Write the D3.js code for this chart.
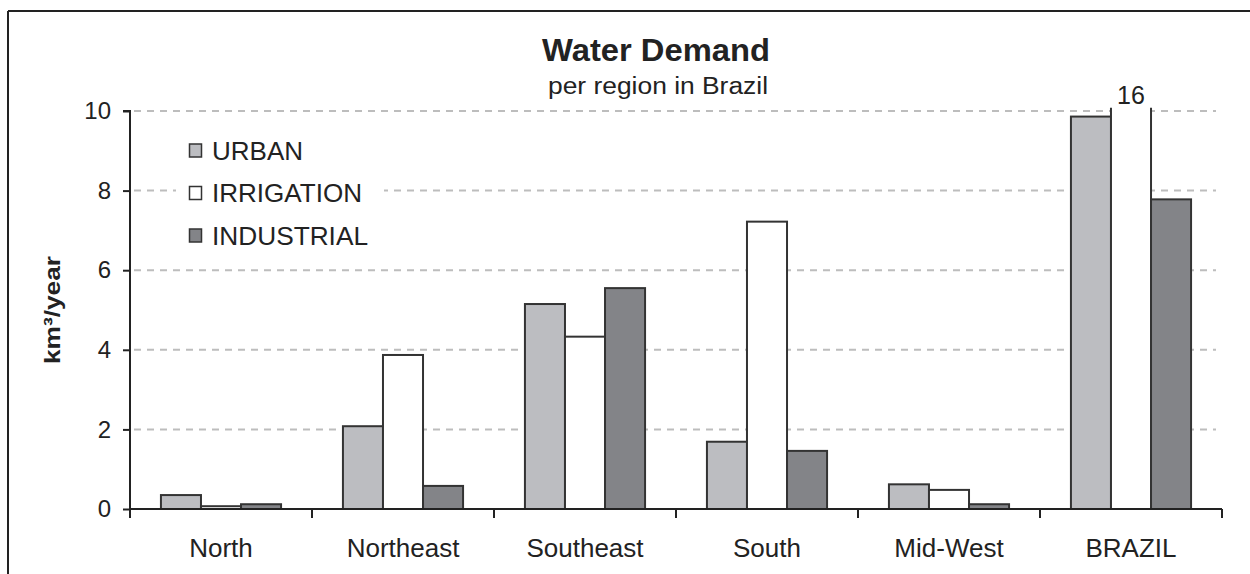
<!DOCTYPE html>
<html>
<head>
<meta charset="utf-8">
<script src="https://d3js.org/d3.v7.min.js"></script>
<style>
  html, body { margin: 0; padding: 0; background: #fff; }
  svg { display: block; font-family: "Liberation Sans", Arial, sans-serif; }
</style>
</head>
<body>
<svg id="chart" width="1250" height="574"></svg>
<script>
// ---- data ----
const regions = ["North", "Northeast", "Southeast", "South", "Mid-West", "BRAZIL"];
const seriesNames = ["URBAN", "IRRIGATION", "INDUSTRIAL"];
const urban      = [0.35, 2.08, 5.15, 1.69, 0.62, 9.86];
const irrigation = [0.07, 3.87, 4.33, 7.22, 0.48, 16];
const industrial = [0.12, 0.58, 5.55, 1.46, 0.12, 7.78];
const yTicks = [0, 2, 4, 6, 8, 10];
const seriesColors = ["#bcbdc1", "#ffffff", "#838488"];
const titleText = "Water Demand";
const subtitleText = "per region in Brazil";
const yLabelText = "km³/year";

(function () {
const values = [urban, irrigation, industrial];
const svg = d3.select("#chart");
const legendWidths = [91, 150, 156];

// frame
svg.append("line").attr("x1", 8).attr("x2", 1250).attr("y1", 11).attr("y2", 11)
  .attr("stroke", "#222").attr("stroke-width", 2);
svg.append("line").attr("x1", 8).attr("x2", 8).attr("y1", 11).attr("y2", 574)
  .attr("stroke", "#222").attr("stroke-width", 2);

const pL = 130, pR = 1222, pT = 111, pB = 509;
const y = d3.scaleLinear().domain([0, 10]).range([pB, pT]);
const x0 = d3.scaleBand().domain(regions).range([pL, pR]).padding(0);
const bw = x0.bandwidth();
const pad = bw * 0.17;
const x1 = d3.scaleBand().domain(seriesNames).range([pad, bw - pad]).padding(0);

// gridlines
svg.append("g").selectAll("line").data(yTicks.filter(d => d > 0)).join("line")
  .attr("x1", pL + 4).attr("x2", 1216)
  .attr("y1", d => y(d)).attr("y2", d => y(d))
  .attr("stroke", "#bdbdbd").attr("stroke-width", 2)
  .attr("stroke-dasharray", "7,6");

// legend background + legend
const leg = svg.append("g");
leg.append("rect").attr("x", 176).attr("y", 132).attr("width", 208).attr("height", 122).attr("fill", "#fff");
seriesNames.forEach((s, i) => {
  const cy = 151 + i * 42.5;
  leg.append("rect").attr("x", 189.5).attr("y", cy - 7).attr("width", 12).attr("height", 13)
    .attr("fill", seriesColors[i]).attr("stroke", "#333").attr("stroke-width", 1.5);
  leg.append("text").attr("x", 212).attr("y", cy + 8.5).text(s)
    .attr("font-size", 25).attr("fill", "#222")
    .attr("textLength", legendWidths[i]).attr("lengthAdjust", "spacingAndGlyphs");
});

// bars
const cap = 10.08;
const groups = svg.append("g").selectAll("g").data(regions).join("g")
  .attr("transform", d => `translate(${x0(d)},0)`);
seriesNames.forEach((s, si) => {
  groups.each(function(region, ri) {
    const v = values[si][ri];
    const g = d3.select(this);
    const xx = x1(s), w = x1.bandwidth();
    if (v > 10) {
      g.append("rect").attr("x", xx).attr("y", y(cap)).attr("width", w).attr("height", y(0) - y(cap))
        .attr("fill", seriesColors[si]);
      g.append("line").attr("x1", xx).attr("x2", xx).attr("y1", y(cap)).attr("y2", y(0))
        .attr("stroke", "#333").attr("stroke-width", 2);
      g.append("line").attr("x1", xx + w).attr("x2", xx + w).attr("y1", y(cap)).attr("y2", y(0))
        .attr("stroke", "#333").attr("stroke-width", 2);
      g.append("text").attr("x", xx + w / 2).attr("y", y(cap) - 4).attr("text-anchor", "middle")
        .attr("font-size", 25).attr("fill", "#222").text(d3.format("d")(v));
    } else {
      g.append("rect").attr("x", xx).attr("y", y(v)).attr("width", w).attr("height", y(0) - y(v))
        .attr("fill", seriesColors[si]).attr("stroke", "#333").attr("stroke-width", 2);
    }
  });
});

// y axis
const yAxis = d3.axisLeft(y).tickValues(yTicks).tickSize(7).tickPadding(12).tickFormat(d3.format("d"));
const gy = svg.append("g").attr("transform", `translate(${pL},0)`).call(yAxis);
gy.select(".domain").attr("stroke", "#222").attr("stroke-width", 2).attr("d", `M-7,${pT}H0V${pB}`);
gy.selectAll(".tick line").attr("stroke", "#222").attr("stroke-width", 2);
gy.selectAll(".tick text").attr("font-size", 24).attr("fill", "#222")
  .attr("font-family", "Liberation Sans, Arial, sans-serif");

// x axis
const xAxis = d3.axisBottom(x0).tickSize(0).tickPadding(30);
const gx = svg.append("g").attr("transform", `translate(0,${pB})`).call(xAxis);
gx.select(".domain").attr("stroke", "#222").attr("stroke-width", 2).attr("d", `M${pL},0H${pR}`);
gx.selectAll(".tick text").attr("font-size", 26).attr("fill", "#222")
  .attr("font-family", "Liberation Sans, Arial, sans-serif");
const bounds = regions.map(r => x0(r)).concat([pR]);
gx.append("g").selectAll("line").data(bounds).join("line")
  .attr("x1", d => d).attr("x2", d => d).attr("y1", 0).attr("y2", 9)
  .attr("stroke", "#222").attr("stroke-width", 2);

// titles
svg.append("text").attr("x", 656).attr("y", 61).attr("text-anchor", "middle")
  .attr("font-size", 31).attr("font-weight", "bold").attr("fill", "#222")
  .attr("textLength", 228).attr("lengthAdjust", "spacingAndGlyphs").text(titleText);
svg.append("text").attr("x", 658).attr("y", 94).attr("text-anchor", "middle")
  .attr("font-size", 23).attr("fill", "#222")
  .attr("textLength", 220).attr("lengthAdjust", "spacingAndGlyphs").text(subtitleText);

// y label
svg.append("text").attr("transform", "translate(60,310) rotate(-90)").attr("text-anchor", "middle")
  .attr("font-size", 22).attr("font-weight", "bold").attr("fill", "#222")
  .attr("textLength", 108).attr("lengthAdjust", "spacingAndGlyphs").text(yLabelText);
})();
</script>
</body>
</html>
